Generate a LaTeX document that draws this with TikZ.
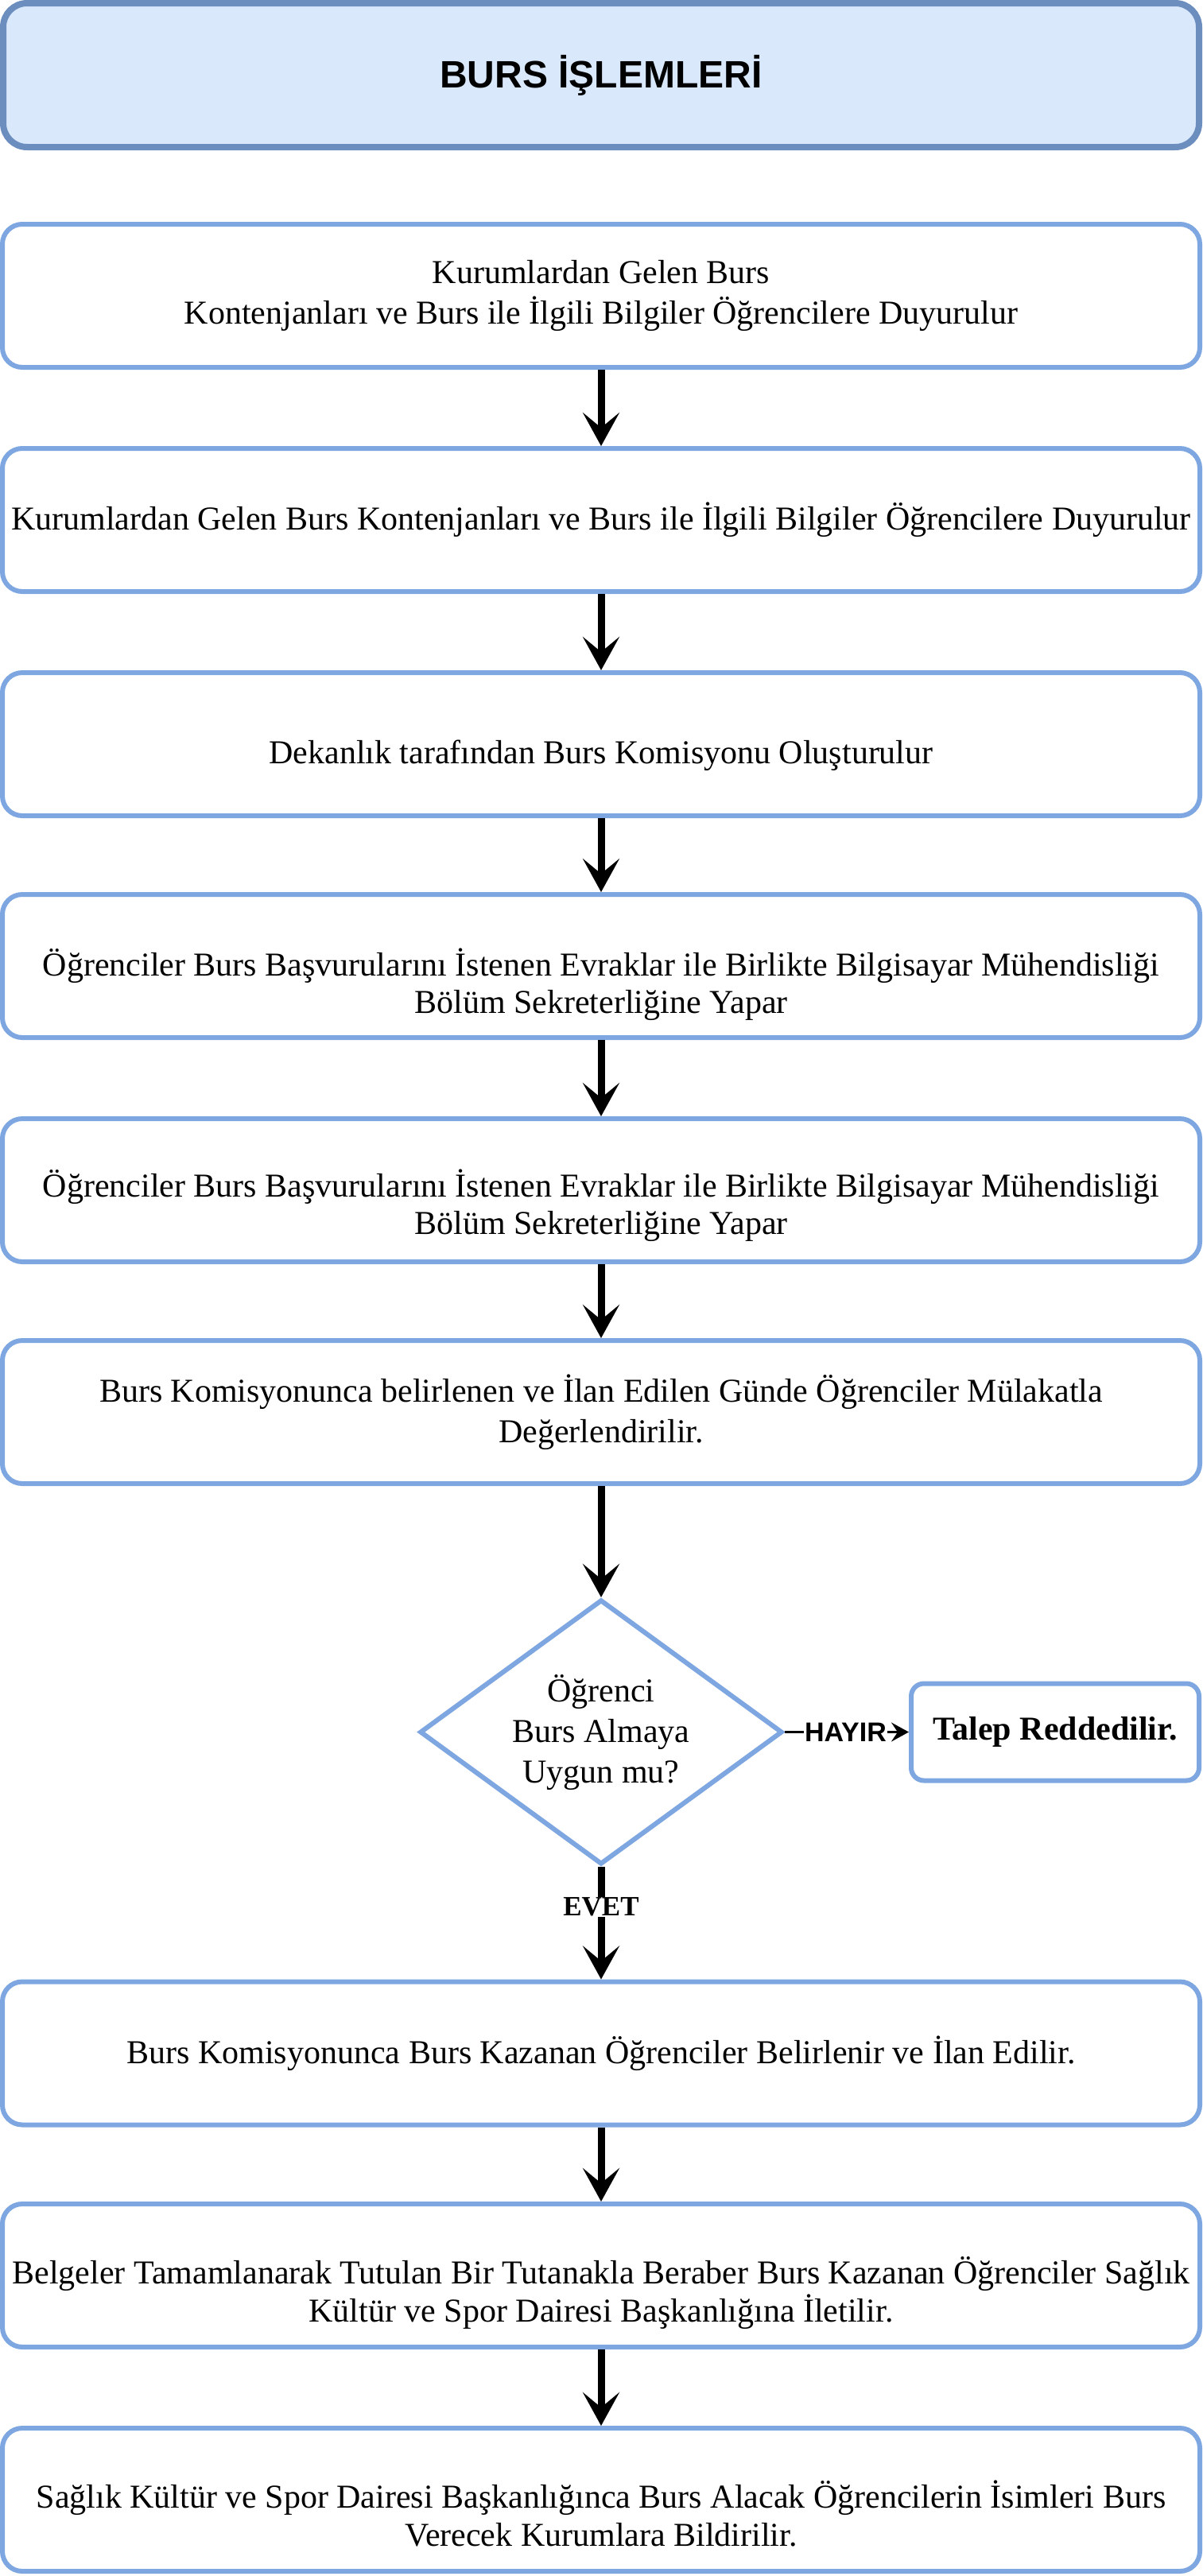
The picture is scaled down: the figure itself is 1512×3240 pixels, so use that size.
\documentclass[tikz,border=0pt]{standalone}
\usepackage{fontspec}
\setmainfont{Liberation Serif}
\setsansfont{Liberation Sans}
\usetikzlibrary{shapes.geometric}
\usetikzlibrary{arrows.meta}
\definecolor{headline}{HTML}{6C8EBF}
\definecolor{headfill}{HTML}{DAE8FC}
\definecolor{boxline}{HTML}{7EA6E0}

\begin{document}
\begin{tikzpicture}[x=0.5pt,y=-0.5pt]
    \tikzset{box/.style={draw=boxline,line width=3pt,rounded corners=12.5pt,
                    minimum width=753pt,minimum height=90pt,inner sep=0pt,
                    align=center,font=\fontsize{21}{25.5}\selectfont},
             txt/.style={align=center,inner sep=0pt,font=\fontsize{21}{23.75}\selectfont},
             flow/.style={line width=4.5pt,-{Stealth[length=21pt,width=23pt,inset=9.5pt]}},
             answer/.style={fill=white,inner sep=0.5pt}}
    \useasboundingbox (0,0) rectangle (1512,3240);
    \node[draw=headline,fill=headfill,line width=4pt,rounded corners=15pt,
          minimum width=752pt,minimum height=90.5pt,
          font=\sffamily\bfseries\fontsize{24}{29}\selectfont] (head) at (756,94.5) {BURS İŞLEMLERİ};
    \node[box] (b1) at (756,372) {Kurumlardan Gelen Burs\\Kontenjanları ve Burs ile İlgili Bilgiler Öğrencilere Duyurulur};
    \node[box] (b2) at (756,654) {Kurumlardan Gelen Burs Kontenjanları ve Burs ile İlgili Bilgiler Öğrencilere Duyurulur};
    \node[box] (b3) at (756,936) {};
    \node[txt] (t3) at ([yshift=-7pt]b3.center) {Dekanlık tarafından Burs Komisyonu Oluşturulur};
    \node[box] (b4) at (756,1215) {};
    \node[txt] (t4) at ([yshift=-11.6pt]b4.center) {Öğrenciler Burs Başvurularını İstenen Evraklar ile Birlikte Bilgisayar Mühendisliği\\Bölüm Sekreterliğine Yapar};
    \node[box] (b5) at (756,1497) {};
    \node[txt] (t5) at ([yshift=-9.7pt]b5.center) {Öğrenciler Burs Başvurularını İstenen Evraklar ile Birlikte Bilgisayar Mühendisliği\\Bölüm Sekreterliğine Yapar};
    \node[box] (b6) at (756,1776) {Burs Komisyonunca belirlenen ve İlan Edilen Günde Öğrenciler Mülakatla\\Değerlendirilir.};
    \node[draw=boxline,line width=3pt,diamond,aspect=1.37,inner sep=0pt,
          minimum width=228pt,minimum height=166.5pt,align=center,
          font=\fontsize{21}{25.5}\selectfont] (ask) at (756,2178.5) {Öğrenci\\Burs Almaya\\Uygun mu?};
    \node[box,minimum width=181pt,minimum height=61pt,rounded corners=8pt,
          font=\bfseries\fontsize{21}{25.5}\selectfont] (reject) at (1327,2178.5) {Talep Reddedilir.};
    \node[box] (b7) at (756,2582.5) {Burs Komisyonunca Burs Kazanan Öğrenciler Belirlenir ve İlan Edilir.};
    \node[box] (b8) at (756,2862) {};
    \node[txt] (t8) at ([yshift=-11.1pt]b8.center) {Belgeler Tamamlanarak Tutulan Bir Tutanakla Beraber Burs Kazanan Öğrenciler Sağlık\\Kültür ve Spor Dairesi Başkanlığına İletilir.};
    \node[box] (b9) at (756,3144) {};
    \node[txt] (t9) at ([yshift=-8.7pt]b9.center) {Sağlık Kültür ve Spor Dairesi Başkanlığınca Burs Alacak Öğrencilerin İsimleri Burs\\Verecek Kurumlara Bildirilir.};
    \foreach \x/\y in {b1/b2,b2/b3,b3/b4,b4/b5,b5/b6,b6/ask,b7/b8,b8/b9}
        \draw [flow] (\x.south) -- (\y.north);
    \draw [flow] (ask.south) -- node[answer,pos=0.355,font=\bfseries\fontsize{17.5}{21}\selectfont] {EVET} (b7.north);
    \draw [line width=1.5pt,-{Stealth[length=11pt,width=12pt,inset=4pt]}] (ask.east) -- node[answer,pos=0.49,font=\sffamily\bfseries\fontsize{17}{20}\selectfont] {HAYIR} (reject.west);
\end{tikzpicture}
\end{document}
